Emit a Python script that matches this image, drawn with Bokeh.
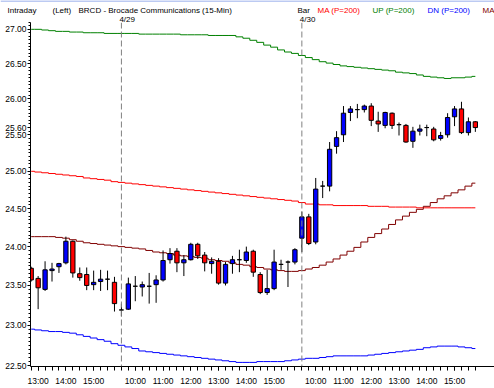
from bokeh.plotting import figure
from bokeh.layouts import column
from bokeh.models import Range1d, FixedTicker, Span, PrintfTickFormatter
from bokeh.core.properties import value
from bokeh.embed import file_html
from bokeh.resources import INLINE

# ---- sessions: (date label, start hour, start minute, number of 15-min bars)
sessions = [("4/28", 12, 45, 13), ("4/29", 9, 30, 26), ("4/30", 9, 30, 26)]

# ---- OHLC
opens = [23.72, 23.59, 23.45, 23.69, 23.74, 23.79, 24.07, 23.65, 23.64, 23.51, 23.55, 23.58, 23.54,
         23.19, 23.20, 23.49, 23.48, 23.49, 23.51, 23.57, 23.83, 23.94, 23.79, 23.83, 24.03, 23.89,
         23.78, 23.81, 23.53, 23.78, 23.83, 23.82, 23.94, 23.64, 23.41, 23.46, 23.77, 23.80, 23.80,
         24.11, 24.39, 24.06, 24.80, 24.80, 25.34, 25.50, 25.81, 25.85, 25.85, 25.90, 25.69, 25.63,
         25.80, 25.64, 25.63, 25.41, 25.55, 25.60, 25.58, 25.45, 25.50, 25.75, 25.86, 25.53, 25.68]
highs = [23.74, 23.62, 23.81, 23.79, 23.79, 24.13, 24.08, 23.73, 23.73, 23.69, 23.70, 23.69, 23.61,
         23.27, 23.60, 23.62, 23.55, 23.66, 23.63, 23.95, 23.98, 23.98, 23.89, 24.05, 24.05, 23.93,
         23.86, 23.85, 23.80, 23.88, 23.96, 24.00, 23.96, 23.67, 23.70, 23.96, 23.83, 23.82, 23.98,
         24.46, 24.43, 24.91, 24.87, 25.40, 25.55, 25.90, 25.90, 25.93, 25.92, 25.94, 25.82, 25.82,
         25.81, 25.67, 25.65, 25.61, 25.64, 25.64, 25.61, 25.54, 25.80, 25.90, 25.96, 25.74, 25.69]
lows = [23.55, 23.20, 23.43, 23.55, 23.66, 23.77, 23.60, 23.56, 23.44, 23.44, 23.43, 23.44, 23.17,
        23.11, 23.19, 23.30, 23.36, 23.27, 23.28, 23.55, 23.78, 23.67, 23.62, 23.82, 23.84, 23.68,
        23.65, 23.51, 23.50, 23.65, 23.67, 23.79, 23.61, 23.39, 23.38, 23.44, 23.70, 23.48, 23.77,
        23.93, 24.02, 24.03, 24.64, 24.73, 25.24, 25.40, 25.69, 25.73, 25.81, 25.62, 25.54, 25.59,
        25.58, 25.49, 25.39, 25.32, 25.49, 25.48, 25.41, 25.42, 25.46, 25.62, 25.51, 25.49, 25.54]
closes = [23.57, 23.47, 23.70, 23.71, 23.78, 24.07, 23.66, 23.60, 23.50, 23.54, 23.58, 23.58, 23.27,
          23.19, 23.52, 23.49, 23.51, 23.49, 23.57, 23.82, 23.91, 23.79, 23.83, 24.03, 23.88, 23.79,
          23.81, 23.53, 23.77, 23.83, 23.83, 23.93, 23.67, 23.41, 23.46, 23.80, 23.77, 23.80, 23.96,
          24.39, 24.04, 24.76, 24.80, 25.30, 25.46, 25.80, 25.86, 25.85, 25.90, 25.70, 25.65, 25.81,
          25.63, 25.64, 25.40, 25.55, 25.58, 25.60, 25.43, 25.49, 25.74, 25.86, 25.53, 25.68, 25.60]

# ---- indicator lines
ma_200 = [25.00, 24.99, 24.98, 24.97, 24.96, 24.95, 24.94, 24.93, 24.91, 24.90, 24.89, 24.88, 24.86,
          24.85, 24.84, 24.83, 24.82, 24.81, 24.80, 24.79, 24.78, 24.77, 24.76, 24.75, 24.74, 24.73,
          24.72, 24.71, 24.70, 24.69, 24.68, 24.67, 24.66, 24.65, 24.64, 24.63, 24.62, 24.61, 24.60,
          24.58, 24.56, 24.56, 24.55, 24.55, 24.54, 24.54, 24.54, 24.54, 24.54, 24.53, 24.53, 24.53,
          24.52, 24.52, 24.52, 24.52, 24.51, 24.51, 24.51, 24.51, 24.51, 24.51, 24.51, 24.51, 24.51]
up_200 = [27.00, 27.00, 26.99, 26.98, 26.97, 26.97, 26.96, 26.96, 26.95, 26.95, 26.95, 26.94, 26.94,
          26.94, 26.94, 26.94, 26.93, 26.93, 26.93, 26.93, 26.93, 26.93, 26.92, 26.92, 26.92, 26.92,
          26.91, 26.91, 26.91, 26.91, 26.89, 26.87, 26.84, 26.81, 26.77, 26.74, 26.70, 26.67, 26.65,
          26.62, 26.59, 26.56, 26.53, 26.51, 26.49, 26.47, 26.46, 26.45, 26.44, 26.43, 26.42, 26.41,
          26.40, 26.38, 26.37, 26.36, 26.34, 26.32, 26.31, 26.30, 26.29, 26.30, 26.30, 26.31, 26.32]
dn_200 = [22.95, 22.94, 22.93, 22.92, 22.92, 22.91, 22.90, 22.88, 22.86, 22.84, 22.82, 22.80, 22.77,
          22.75, 22.73, 22.71, 22.68, 22.67, 22.66, 22.65, 22.64, 22.63, 22.62, 22.61, 22.60, 22.59,
          22.58, 22.57, 22.56, 22.55, 22.54, 22.54, 22.54, 22.55, 22.55, 22.55, 22.55, 22.56, 22.57,
          22.58, 22.59, 22.59, 22.60, 22.61, 22.62, 22.62, 22.62, 22.62, 22.62, 22.63, 22.64, 22.65,
          22.66, 22.67, 22.68, 22.69, 22.70, 22.72, 22.73, 22.74, 22.74, 22.74, 22.73, 22.72, 22.71]
ma_2 = [24.13, 24.13, 24.13, 24.13, 24.12, 24.11, 24.09, 24.07, 24.05, 24.04, 24.03, 24.02, 24.01,
        24.00, 23.99, 23.98, 23.97, 23.95, 23.93, 23.92, 23.91, 23.89, 23.88, 23.87, 23.86, 23.85,
        23.83, 23.82, 23.81, 23.79, 23.77, 23.76, 23.74, 23.73, 23.71, 23.70, 23.69, 23.68, 23.68,
        23.69, 23.71, 23.73, 23.76, 23.80, 23.84, 23.89, 23.94, 23.99, 24.06, 24.12, 24.17, 24.23,
        24.29, 24.35, 24.40, 24.45, 24.49, 24.53, 24.58, 24.63, 24.67, 24.71, 24.75, 24.80, 24.84]

y_ticks = [22.5, 23.0, 23.5, 24.0, 24.5, 25.0, 25.5, 26.0, 26.5, 27.0]
last_price = closes[-1]

# header texts and colours
header_texts = ["Intraday", "(Left)", "BRCD - Brocade Communications  (15-Min)",
                "Bar", "MA (P=200)", "UP (P=200)", "DN (P=200)", "MA"]
header_colors = ["black", "black", "black", "black", "#FF0000", "#008000", "#0000FF", "#800000"]

# ---- derived labels
bar_time, session_starts, session_dates = [], [], []
for d, h, m, n in sessions:
    session_starts.append(len(bar_time))
    session_dates.append(d)
    for k in range(n):
        t = h * 60 + m + 15 * k
        bar_time.append(f"{t // 60}:{t % 60:02d}")
x = list(range(len(opens)))
hour_idx = [i for i, t in enumerate(bar_time) if t.endswith(":00")]

FONT = "Liberation Sans"
W = 494
HEAD_H = 22
LEFT = 30          # left border of main figure (y-axis area)
X0 = -0.1
SPX = 6.94         # pixels per bar
X1 = X0 + (W - LEFT) / SPX


def no_align(fig):
    if "frame_align" in fig.properties():
        fig.frame_align = False


# ---------------- header strip ----------------
head = figure(width=W, height=HEAD_H, output_backend="svg", toolbar_location=None,
              x_range=Range1d(0, W), y_range=Range1d(HEAD_H, 0),
              x_axis_location=None, y_axis_location=None,
              min_border=0, min_border_left=0, min_border_right=0,
              min_border_top=0, min_border_bottom=0)
no_align(head)
head.outline_line_color = None
head.grid.visible = False
head.background_fill_color = "white"
head.border_fill_color = "white"
head_x = [7, 52, 78, 297, 317, 372, 427, 482]
head.text(x=head_x, y=[10] * len(header_texts), text=header_texts, text_color=header_colors,
          text_font=value(FONT), text_font_size=value("8px"),
          text_baseline="alphabetic", text_align="left")
date_x = [LEFT + (s - X0) * SPX - 2 for s in session_starts[1:]]
head.text(x=date_x, y=[18.5] * len(date_x), text=session_dates[1:], text_color="black",
          text_font=value(FONT), text_font_size=value("8px"),
          text_baseline="alphabetic", text_align="left")
head.segment(x0=[0], y0=[0.5], x1=[W], y1=[0.5], line_color="#7B96E6", line_width=1)

# ---------------- main chart ----------------
p = figure(width=W, height=388 - HEAD_H, output_backend="svg", toolbar_location=None,
           y_axis_type="log", x_range=Range1d(X0, X1), y_range=Range1d(22.49, 27.10),
           min_border_left=LEFT, min_border_right=0, min_border_top=0, min_border_bottom=22)
no_align(p)
p.outline_line_color = None
p.grid.visible = False
p.background_fill_color = "white"
p.border_fill_color = "white"

p.yaxis.ticker = FixedTicker(ticks=y_ticks + [last_price],
                             minor_ticks=[22.5 + 0.05 * k for k in range(93)])
p.yaxis.formatter = PrintfTickFormatter(format="%.2f")
p.yaxis.major_tick_out = 3
p.yaxis.major_tick_in = 0
p.yaxis.minor_tick_out = 2
p.yaxis.minor_tick_in = 0
p.yaxis.major_label_standoff = 1
p.yaxis.major_label_text_font = FONT
p.yaxis.major_label_text_font_size = "8.5px"
p.yaxis.major_label_text_color = "black"
p.yaxis.axis_line_color = "black"

p.xaxis.ticker = FixedTicker(ticks=hour_idx, minor_ticks=x)
p.xaxis.major_label_overrides = {i: bar_time[i] for i in hour_idx}
p.xaxis.major_tick_out = 4
p.xaxis.major_tick_in = 0
p.xaxis.minor_tick_out = 4
p.xaxis.minor_tick_in = 0
p.xaxis.major_label_standoff = 5
p.xaxis.major_label_text_font = FONT
p.xaxis.major_label_text_font_size = "8.5px"
p.xaxis.major_label_text_color = "black"
p.xaxis.axis_line_color = "black"

for s in session_starts[1:]:
    p.add_layout(Span(location=s, dimension="height", line_color="#808080",
                      line_dash="6 3", line_width=1))

p.step(x, up_200, mode="center", line_color="#008000", line_width=1)
p.step(x, ma_200, mode="center", line_color="#FF0000", line_width=1)
p.step(x, dn_200, mode="center", line_color="#0000FF", line_width=1)
p.step(x, ma_2, mode="center", line_color="#800000", line_width=1)

up_idx = [i for i in x if closes[i] >= opens[i]]
dn_idx = [i for i in x if closes[i] < opens[i]]
p.segment(x, highs, x, lows, line_color="black", line_width=1)
p.vbar(x=up_idx, width=0.62, top=[closes[i] for i in up_idx], bottom=[opens[i] for i in up_idx],
       fill_color="#0000FF", line_color="black", line_width=1)
p.vbar(x=dn_idx, width=0.62, top=[opens[i] for i in dn_idx], bottom=[closes[i] for i in dn_idx],
       fill_color="#FF0000", line_color="black", line_width=1)

layout = column(head, p, spacing=0)
open("out.html", "w").write(file_html(layout, INLINE))
